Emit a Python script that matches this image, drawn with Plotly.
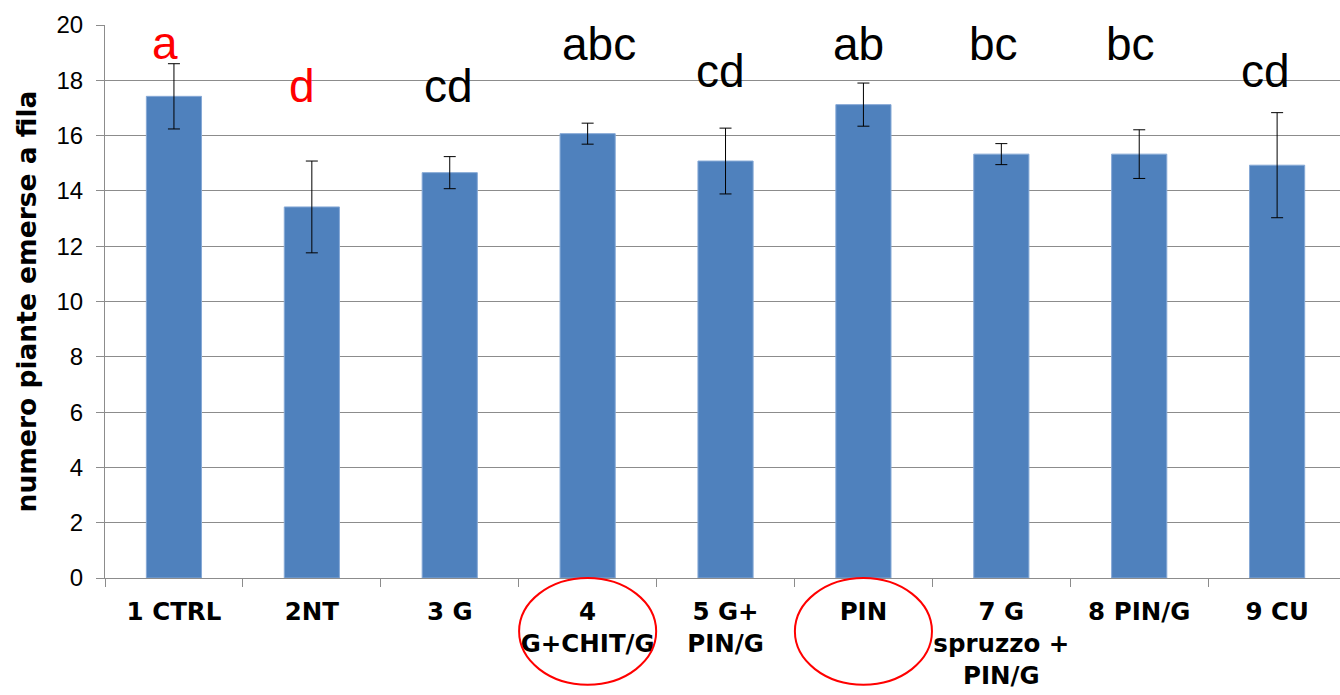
import plotly.graph_objects as go

# Treatments and mean number of emerged plants per row
categories = ["1 CTRL", "2NT", "3 G", "4<br>G+CHIT/G", "5 G+<br>PIN/G", "PIN",
              "7 G<br>spruzzo +<br>PIN/G", "8 PIN/G", "9 CU"]
means = [17.42, 13.42, 14.66, 16.07, 15.08, 17.12, 15.33, 15.33, 14.93]
errors = [1.18, 1.66, 0.58, 0.38, 1.19, 0.78, 0.38, 0.88, 1.90]

# Significance groups
letters = ["a", "d", "cd", "abc", "cd", "ab", "bc", "bc", "cd"]
letter_colors = ["#ff0000", "#ff0000", "black", "black", "black", "black", "black", "black", "black"]
letter_y = [19.36, 17.79, 17.79, 19.32, 18.33, 19.33, 19.33, 19.33, 18.33]
letter_xshift = [-9, -10, -1, 11, -5, -5, -8, -9, -12]

# Highlighted treatments (index into categories)
highlighted = [3, 5]

fig = go.Figure()
fig.add_trace(go.Bar(
    x=categories,
    y=means,
    width=0.4,
    marker=dict(color="#4f81bd", line=dict(color="#86a9d6", width=1)),
    error_y=dict(type="data", array=errors, visible=True,
                 color="black", thickness=1, width=6),
    showlegend=False,
))

for i, (lab, col, ly, dx) in enumerate(zip(letters, letter_colors, letter_y, letter_xshift)):
    fig.add_annotation(
        x=i, y=ly, xref="x", yref="y", text=lab, showarrow=False,
        xshift=dx, yanchor="middle", xanchor="center",
        font=dict(family="Liberation Sans, Arial", size=46, color=col),
    )

# Red ellipses around highlighted labels (paper coordinates)
x_lo, x_hi = -0.5, 8.456
for idx in highlighted:
    cx = (idx - x_lo) / (x_hi - x_lo)
    half = 0.497 / (x_hi - x_lo)
    fig.add_shape(type="circle", xref="paper", yref="paper",
                  x0=cx - half, x1=cx + half, y0=-0.193, y1=0.0,
                  line=dict(color="#ff0000", width=2), layer="above")

fig.update_layout(
    width=1340, height=695,
    margin=dict(l=105, r=0, t=25, b=117),
    paper_bgcolor="white", plot_bgcolor="white",
    bargap=0.6,
    font=dict(family="DejaVu Sans", color="black"),
)
fig.update_xaxes(
    range=[x_lo, x_hi],
    automargin=False,
    showline=True, linecolor="#8c8c8c", linewidth=1,
    ticks="outside", ticklen=8, tickcolor="#8c8c8c",
    tickson="boundaries",
    tickangle=0,
    tickfont=dict(family="DejaVu Sans", size=24.5, color="black", weight="bold"),
    ticklabelstandoff=12,
    showgrid=False,
)
fig.update_yaxes(
    range=[0, 20], dtick=2,
    automargin=False,
    showline=True, linecolor="#8c8c8c", linewidth=1,
    ticks="outside", ticklen=8, tickcolor="#8c8c8c",
    showgrid=True, gridcolor="#8c8c8c", gridwidth=1,
    tickfont=dict(family="Liberation Sans, Arial", size=24, color="black"),
    ticklabelstandoff=8,
    title=dict(text="<b>numero piante emerse a fila</b>",
               font=dict(family="DejaVu Sans", size=26.5, color="black"), standoff=12),
    zeroline=False,
)

fig.write_html("out.html")
